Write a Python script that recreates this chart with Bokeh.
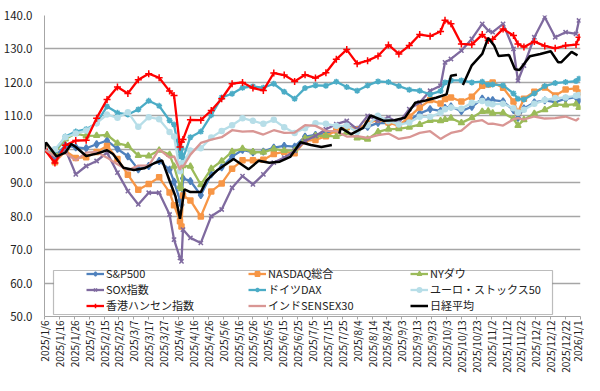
import math
import numpy as np
import pandas as pd
from bokeh.plotting import figure
from bokeh.models import (FixedTicker, NumeralTickFormatter, Legend, LegendItem,
                          BoxAnnotation, Range1d, ColumnDataSource)
from bokeh.embed import file_html
from bokeh.resources import INLINE

# ---------------- data (index, 2025/1/6 = 100) ----------------
dates = ["2025-01-06", "2025-01-13", "2025-01-20", "2025-01-27", "2025-02-03", "2025-02-10",
         "2025-02-17", "2025-02-24", "2025-03-03", "2025-03-10", "2025-03-17", "2025-03-24",
         "2025-03-31", "2025-04-03", "2025-04-07", "2025-04-08", "2025-04-09", "2025-04-14",
         "2025-04-21", "2025-04-28", "2025-05-05", "2025-05-12", "2025-05-19", "2025-05-26",
         "2025-06-02", "2025-06-09", "2025-06-16", "2025-06-23", "2025-06-30", "2025-07-07",
         "2025-07-14", "2025-07-21", "2025-07-28", "2025-08-04", "2025-08-11", "2025-08-18",
         "2025-08-25", "2025-09-01", "2025-09-08", "2025-09-15", "2025-09-22", "2025-09-29",
         "2025-10-02", "2025-10-06", "2025-10-13", "2025-10-20", "2025-10-27", "2025-10-31",
         "2025-11-03", "2025-11-10", "2025-11-17", "2025-11-20", "2025-11-24", "2025-12-01",
         "2025-12-08", "2025-12-15", "2025-12-22", "2025-12-29", "2025-12-31"]

sp500 = [100, 97.8, 101.2, 100.6, 100.3, 101.5, 102.6, 100.1, 97.9, 94.0,
         95.0, 96.5, 93.9, 90.3, 84.7, 83.4, 91.3, 90.5, 86.3, 92.5,
         94.6, 97.8, 99.8, 99.1, 99.3, 100.5, 101.0, 100.8, 103.8, 104.3,
         104.9, 105.5, 106.9, 105.9, 106.7, 107.9, 107.8, 107.4, 108.7, 110.7,
         112.0, 111.5, 112.4, 112.8, 111.4, 112.7, 115.1, 114.5, 114.7, 114.3,
         111.7, 109.4, 112.2, 114.0, 114.6, 114.1, 115.1, 115.6, 114.6]

nasdaq = [100, 96.1, 99.5, 97.4, 97.6, 99.2, 101.0, 97.1, 92.4, 87.9,
          89.6, 91.6, 87.1, 83.3, 78.5, 76.9, 86.2, 84.7, 79.9, 87.4,
          89.8, 94.2, 96.7, 96.7, 96.9, 98.6, 99.2, 98.8, 102.5, 102.8,
          103.9, 105.6, 106.6, 106.0, 107.7, 108.9, 108.0, 107.1, 109.7, 112.5,
          114.7, 113.7, 115.0, 115.5, 114.3, 115.7, 119.0, 119.4, 120.0, 118.4,
          114.3, 111.1, 115.1, 117.2, 118.5, 116.1, 117.9, 118.2, 117.0]

nydow = [100, 99.0, 103.1, 104.7, 104.0, 104.1, 104.3, 101.8, 101.1, 98.1,
         98.0, 99.7, 98.4, 94.9, 88.9, 88.2, 95.1, 94.9, 89.4, 94.2,
         96.5, 99.3, 100.2, 99.2, 99.1, 100.1, 99.6, 99.7, 103.3, 104.0,
         104.1, 103.8, 105.0, 103.4, 103.0, 105.2, 106.0, 106.1, 106.6, 107.4,
         108.6, 108.5, 108.9, 109.3, 107.9, 109.4, 111.3, 111.4, 110.8, 110.9,
         109.1, 107.1, 108.8, 110.7, 111.8, 113.4, 113.2, 113.5, 112.5]

sox = [100, 96.5, 100.0, 92.5, 95.0, 96.5, 99.0, 93.0, 87.5, 83.5,
       87.0, 87.0, 80.5, 73.0, 67.5, 66.5, 76.0, 73.5, 72.0, 80.0,
       82.0, 88.5, 92.0, 89.5, 92.5, 96.0, 97.5, 99.5, 102.5, 104.0,
       106.0, 107.5, 108.5, 106.0, 110.0, 108.5, 109.5, 108.0, 112.0, 114.0,
       117.5, 119.0, 126.0, 127.0, 129.5, 133.0, 137.5, 135.5, 135.0, 137.5,
       130.0, 120.5, 125.0, 133.5, 139.5, 133.5, 135.0, 134.5, 138.5]

dax = [100, 99.6, 103.8, 105.3, 106.0, 107.8, 112.8, 110.9, 110.4, 111.9,
       114.5, 113.0, 108.6, 107.4, 97.9, 100.3, 97.3, 103.6, 105.3, 110.2,
       115.5, 116.6, 118.4, 118.8, 118.4, 119.6, 117.2, 115.1, 118.3, 119.1,
       119.0, 120.2, 118.6, 117.5, 119.1, 120.3, 120.1, 118.9, 117.8, 117.5,
       116.4, 117.4, 120.0, 120.6, 120.6, 120.0, 120.2, 119.3, 119.4, 119.1,
       116.7, 115.1, 114.9, 116.7, 118.9, 119.8, 120.1, 120.4, 121.1]

eurostoxx = [100, 100.0, 103.6, 104.7, 105.6, 107.8, 110.4, 109.4, 111.1, 106.7,
             109.6, 109.0, 105.2, 103.8, 93.4, 95.7, 95.8, 99.6, 100.3, 103.5,
             105.5, 107.2, 109.3, 108.5, 107.6, 108.8, 106.6, 104.9, 106.3, 107.8,
             107.6, 107.0, 107.0, 105.2, 107.2, 110.0, 108.4, 107.4, 108.0, 109.7,
             109.7, 110.9, 112.0, 112.5, 112.1, 113.9, 114.4, 113.7, 113.5, 113.6,
             112.3, 111.0, 111.8, 113.6, 114.7, 115.3, 115.5, 116.0, 116.2]

hangseng = [100, 95.9, 101.2, 102.6, 102.7, 109.3, 114.9, 118.6, 116.7, 120.8,
            122.6, 121.4, 117.4, 116.1, 100.7, 102.2, 102.9, 108.8, 108.7, 111.6,
            115.1, 119.6, 120.0, 118.3, 117.6, 122.8, 122.2, 120.3, 122.3, 121.3,
            122.9, 126.9, 129.8, 125.6, 126.5, 127.9, 131.2, 128.5, 131.0, 134.3,
            133.8, 135.2, 138.6, 137.5, 131.5, 131.3, 134.3, 132.5, 132.9, 136.0,
            134.0, 131.5, 130.6, 132.2, 130.9, 130.2, 131.0, 131.3, 133.5]

sensex = [100, 97.9, 98.9, 96.7, 99.0, 99.2, 97.5, 95.5, 93.7, 95.1,
          95.1, 100.0, 97.5, 97.9, 93.8, 95.2, 94.7, 98.4, 101.9, 102.9,
          103.6, 105.7, 105.3, 105.4, 104.4, 105.7, 104.9, 105.0, 107.2, 107.0,
          105.5, 105.4, 103.8, 103.9, 103.4, 104.2, 104.7, 103.1, 103.6, 104.9,
          105.4, 103.1, 103.9, 104.9, 105.6, 108.2, 108.7, 107.6, 107.7, 107.1,
          109.0, 109.3, 108.9, 109.8, 109.2, 109.3, 109.8, 108.6, 109.3]

nikkei_dates = ["2025-01-06", "2025-01-07", "2025-01-14", "2025-01-20", "2025-01-24", "2025-01-27",
                "2025-02-03", "2025-02-10", "2025-02-17", "2025-02-21", "2025-02-28", "2025-03-07",
                "2025-03-14", "2025-03-21", "2025-03-26", "2025-03-31", "2025-04-04", "2025-04-07",
                "2025-04-10", "2025-04-14", "2025-04-21", "2025-04-25", "2025-05-02", "2025-05-13",
                "2025-05-23", "2025-05-30", "2025-06-06", "2025-06-13", "2025-06-20", "2025-06-27",
                "2025-07-04", "2025-07-11", "2025-07-18", "2025-07-21", "2025-07-23", "2025-07-24",
                "2025-07-31", "2025-08-08", "2025-08-13", "2025-08-22", "2025-08-29", "2025-09-05",
                "2025-09-12", "2025-09-19", "2025-09-26", "2025-10-03", "2025-10-06", "2025-10-10",
                "2025-10-13", "2025-10-14", "2025-10-20", "2025-10-27", "2025-10-31", "2025-11-04",
                "2025-11-07", "2025-11-14", "2025-11-18", "2025-11-21", "2025-11-28", "2025-12-05",
                "2025-12-12", "2025-12-17", "2025-12-19", "2025-12-26", "2025-12-30"]
nan = float("nan")
nikkei = [100, 102.0, 97.9, 99.0, 101.6, 100.7, 98.0, 98.7, 99.7, 98.6,
          94.5, 93.8, 94.3, 95.9, 96.7, 90.6, 85.9, 79.2, 88.0, 87.2,
          87.2, 90.8, 93.7, 97.1, 94.0, 96.6, 96.0, 96.3, 97.7, 102.1,
          101.3, 100.7, 101.3, nan, 104.7, 106.4, 104.5, 106.4, 110.1, 108.5,
          108.7, 109.4, 113.9, 114.6, 115.4, 116.4, 122.0, 122.3, nan, 119.2,
          125.1, 128.5, 133.3, 131.0, 127.9, 128.2, 123.9, 123.7, 127.8, 128.5,
          129.3, 126.0, 126.0, 129.1, 128.1]

tick_labels = ["2025/1/6", "2025/1/16", "2025/1/26", "2025/2/5", "2025/2/15", "2025/2/25",
               "2025/3/7", "2025/3/17", "2025/3/27", "2025/4/6", "2025/4/16", "2025/4/26",
               "2025/5/6", "2025/5/16", "2025/5/26", "2025/6/5", "2025/6/15", "2025/6/25",
               "2025/7/5", "2025/7/15", "2025/7/25", "2025/8/4", "2025/8/14", "2025/8/24",
               "2025/9/3", "2025/9/13", "2025/9/23", "2025/10/3", "2025/10/13", "2025/10/23",
               "2025/11/2", "2025/11/12", "2025/11/22", "2025/12/2", "2025/12/12", "2025/12/22",
               "2026/1/1"]

series = [
    ("S&P500", sp500, "#4F81BD", "diamond", 7),
    ("NASDAQ総合", nasdaq, "#F79646", "square", 5),
    ("NYダウ", nydow, "#9BBB59", "triangle", 6),
    ("SOX指数", sox, "#7F6A9F", "x", 6),
    ("ドイツDAX", dax, "#4BACC6", "asterisk", 6),
    ("ユーロ・ストックス50", eurostoxx, "#B7DEE8", "circle", 5),
    ("香港ハンセン指数", hangseng, "#FF0000", "cross", 7),
    ("インドSENSEX30", sensex, "#D99694", None, 0),
    ("日経平均", nikkei, "#000000", None, 0),
]

# ---------------- helpers ----------------
base = pd.Timestamp("2025-01-06")


def to_days(ds):
    return [(pd.Timestamp(d) - base).days for d in ds]


x_main = to_days(dates)
x_nikkei = to_days(nikkei_dates)
tick_days = [(pd.Timestamp(lab.replace("/", "-")) - base).days for lab in tick_labels]

FONT = "Noto Sans CJK JP"

p = figure(width=584, height=375, output_backend="svg", toolbar_location=None,
           x_range=Range1d(0, 360), y_range=Range1d(50, 140),
           min_border_left=36, min_border_right=4, min_border_top=15, min_border_bottom=10)
p.background_fill_color = "white"
p.border_fill_color = "white"
p.outline_line_color = None

p.xgrid.visible = False
p.ygrid.grid_line_color = "#A6A6A6"
p.ygrid.grid_line_width = 1.5

p.yaxis.ticker = FixedTicker(ticks=list(range(50, 141, 10)))
p.yaxis.formatter = NumeralTickFormatter(format="0.0")
p.yaxis.axis_line_color = "#A6A6A6"
p.yaxis.major_tick_line_color = None
p.yaxis.minor_tick_line_color = None
p.yaxis.major_label_standoff = 6
p.yaxis.major_label_text_font = FONT
p.yaxis.major_label_text_font_size = "11.5px"
p.yaxis.major_label_text_color = "#222222"

p.xaxis.ticker = FixedTicker(ticks=tick_days)
p.xaxis.major_label_overrides = {d: lab for d, lab in zip(tick_days, tick_labels)}
p.xaxis.major_label_orientation = math.pi / 2
p.xaxis.axis_line_color = "#A6A6A6"
p.xaxis.major_tick_line_color = "#A6A6A6"
p.xaxis.major_tick_in = 0
p.xaxis.major_tick_out = 3
p.xaxis.minor_tick_line_color = None
p.xaxis.major_label_standoff = 1
p.xaxis.axis_label_standoff = 0
p.xaxis.major_label_text_font = FONT
p.xaxis.major_label_text_font_size = "10px"
p.xaxis.major_label_text_color = "#222222"

items = {}
for name, vals, color, marker, size in series:
    xs = x_nikkei if name == "日経平均" else x_main
    src = ColumnDataSource(dict(x=xs, y=vals))
    lw = 2.5 if name == "日経平均" else 2.3
    rl = p.line("x", "y", source=src, line_color=color, line_width=lw)
    rends = [rl]
    if marker:
        rs = p.scatter("x", "y", source=src, marker=marker, size=size,
                       line_color=color, fill_color=color, line_width=1.5)
        rends.append(rs)
    items[name] = LegendItem(label=name, renderers=rends)

# legend is filled column by column: order so rows read like the reference
legend_order = ["S&P500", "SOX指数", "香港ハンセン指数",
                "NASDAQ総合", "ドイツDAX", "インドSENSEX30",
                "NYダウ", "ユーロ・ストックス50", "日経平均"]

box = BoxAnnotation(left=9, right=508, bottom=2, top=46,
                    left_units="screen", right_units="screen",
                    bottom_units="screen", top_units="screen",
                    fill_color="white", fill_alpha=1.0,
                    line_color="#222222", line_width=1.2)
p.add_layout(box)

legend = Legend(items=[items[n] for n in legend_order], ncols=3, location=(40, 1),
                glyph_width=18, glyph_height=11, label_standoff=2,
                label_width=142, spacing=0, padding=2,
                label_text_font=FONT, label_text_font_size="11px",
                label_text_line_height=1.0,
                label_text_color="#222222", label_height=12,
                border_line_alpha=0, background_fill_alpha=0)
p.add_layout(legend, "center")

open("out.html", "w").write(file_html(p, INLINE))
